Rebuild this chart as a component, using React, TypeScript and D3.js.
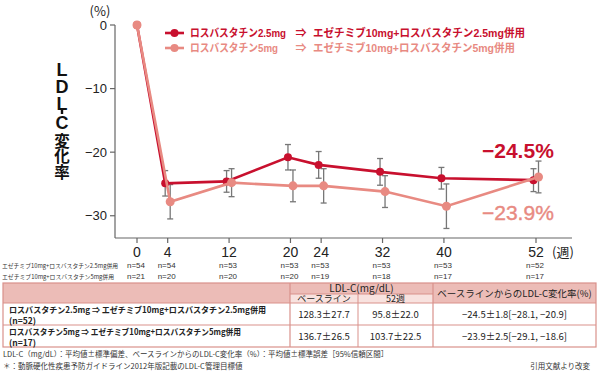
import React from 'react';
import * as d3 from 'd3';

// 週
const weeks = [0, 4, 12, 20, 24, 32, 40, 52];
// ロスバスタチン2.5mg ⇒ エゼチミブ10mg+ロスバスタチン2.5mg併用
const redMean = [0, -24.9, -24.6, -20.8, -22.0, -23.1, -24.1, -24.4];
const redErr = [0, 2.0, 1.7, 2.0, 2.1, 2.1, 1.7, 1.8];
// ロスバスタチン5mg ⇒ エゼチミブ10mg+ロスバスタチン5mg併用
const pinkMean = [0, -27.8, -24.8, -25.3, -25.3, -26.2, -28.5, -23.9];
const pinkErr = [0, 2.7, 2.2, 2.5, 2.7, 2.5, 3.5, 2.5];
const nRed = [54, 54, 53, 53, 53, 53, 53, 52];
const nPink = [21, 20, 20, 20, 19, 18, 17, 17];
const yTicks = [0, -10, -20, -30];

const legendLabels = [
  ['ロスバスタチン2.5mg', 'エゼチミブ10mg+ロスバスタチン2.5mg併用'],
  ['ロスバスタチン5mg', 'エゼチミブ10mg+ロスバスタチン5mg併用'],
];
const nRowLabels = ['エゼチミブ10mg+ロスバスタチン2.5mg併用', 'エゼチミブ10mg+ロスバスタチン5mg併用'];
const yTitleLatin = ['L', 'D', 'L', '-', 'C'];
const yTitleJa = '変化率';

const tableRows = [
  {
    name: 'ロスバスタチン2.5mg ⇒ エゼチミブ10mg+ロスバスタチン2.5mg併用',
    n: '(n=52)',
    base: '128.3±27.7',
    w52: '95.8±22.0',
    change: '−24.5±1.8[−28.1, −20.9]',
  },
  {
    name: 'ロスバスタチン5mg ⇒ エゼチミブ10mg+ロスバスタチン5mg併用',
    n: '(n=17)',
    base: '136.7±26.5',
    w52: '103.7±22.5',
    change: '−23.9±2.5[−29.1, −18.6]',
  },
];

const RED = '#c8102e';
const PINK = '#e88a82';
const GRAY = '#777';
const FONT = "'Liberation Sans', 'Noto Sans CJK JP', sans-serif";
const JFONT = "'Noto Sans CJK JP', sans-serif";

export default function App() {
  const x = d3.scaleLinear().domain([0, 52]).range([137, 536]);
  const y = d3.scaleLinear().domain([-33.5, 0]).range([238, 25]);

  const series = [
    { mean: redMean, err: redErr, color: RED, dx: -2.5, r: 4 },
    { mean: pinkMean, err: pinkErr, color: PINK, dx: 2.5, r: 4.5 },
  ];

  const line = (s) =>
    d3
      .line<number>()
      .x((d, i) => x(weeks[i]) + (i === 0 ? 0 : s.dx))
      .y((d) => y(d))(s.mean);

  const cols = [3, 290, 358, 433, 596];
  const rows = [283, 294, 303, 325, 347];
  const headFill = '#ecbcb7';
  const subFill = '#f8e2df';
  const border = '#d9918b';

  const legendW = [[96, 212], [88, 202]];
  const nameW = [257, 232];
  const titleY = [69, 86, 103, 112, 122];

  return (
    <svg
      width={600}
      height={373}
      style={{ position: 'absolute', left: 0, top: 0, background: '#fff' }}
      fontFamily={FONT}
    >
      {/* y axis */}
      <text x={100} y={16} fontSize={13} fill="#222" textAnchor="middle" fontFamily={JFONT}>
        (%)
      </text>
      <line x1={115} x2={115} y1={y(0)} y2={238} stroke="#666" strokeWidth={1.2} />
      {yTicks.map((t) => (
        <g key={t}>
          <line x1={110} x2={115} y1={y(t)} y2={y(t)} stroke="#666" strokeWidth={1.2} />
          <text x={107} y={y(t) + 4.5} fontSize={13} fill="#222" textAnchor="end">
            {t === 0 ? '0' : '−' + Math.abs(t)}
          </text>
        </g>
      ))}
      {yTitleLatin.map((c, i) => {
        const cy = titleY[i];
        if (c === '-') {
          return <line key={i} x1={62} x2={62} y1={cy - 2.5} y2={cy + 2} stroke="#111" strokeWidth={2.4} />;
        }
        return (
          <text key={i} x={62} y={cy + 6.5} fontSize={18} fontWeight="bold" fill="#111" textAnchor="middle">
            {c}
          </text>
        );
      })}
      <text
        x={62}
        y={133}
        fontSize={15.5}
        fontWeight="bold"
        fill="#111"
        fontFamily={JFONT}
        style={{ writingMode: 'vertical-rl' }}
      >
        {yTitleJa}
      </text>

      {/* x axis */}
      <line x1={115} x2={572} y1={238} y2={238} stroke="#666" strokeWidth={1.2} />
      {weeks.map((w, i) => (
        <g key={w}>
          <line x1={x(w)} x2={x(w)} y1={238} y2={243} stroke="#666" strokeWidth={1.2} />
          <text x={x(w)} y={257} fontSize={14} fill="#222" textAnchor="middle">
            {w}
          </text>
          <text x={x(w) - 1} y={268} fontSize={8} fill="#333" textAnchor="middle">
            n={nRed[i]}
          </text>
          <text x={x(w) - 1} y={279} fontSize={8} fill="#333" textAnchor="middle">
            n={nPink[i]}
          </text>
        </g>
      ))}
      <text x={563} y={257} fontSize={13} fill="#222" textAnchor="middle" fontFamily={JFONT}>
        (週)
      </text>
      {nRowLabels.map((l, i) => (
        <text
          key={l}
          x={2}
          y={268 + i * 11}
          fontSize={6}
          fill="#333"
          fontFamily={JFONT}
          textLength={i === 0 ? 116 : 112}
          lengthAdjust="spacingAndGlyphs"
        >
          {l}
        </text>
      ))}

      {/* error bars */}
      {series.map((s, si) =>
        s.mean.map((m, i) => {
          if (s.err[i] === 0) return null;
          const cx = x(weeks[i]) + s.dx;
          return (
            <g key={si + '-' + i} stroke={GRAY} strokeWidth={1.3}>
              <line x1={cx} x2={cx} y1={y(m + s.err[i])} y2={y(m - s.err[i])} />
              <line x1={cx - 3} x2={cx + 3} y1={y(m + s.err[i])} y2={y(m + s.err[i])} />
              <line x1={cx - 3} x2={cx + 3} y1={y(m - s.err[i])} y2={y(m - s.err[i])} />
            </g>
          );
        })
      )}

      {/* lines & markers (pink drawn last, on top at week 0) */}
      {series.map((s, si) => (
        <g key={si}>
          <path d={line(s) || ''} fill="none" stroke={s.color} strokeWidth={2.6} />
          {s.mean.map((m, i) => (
            <circle
              key={i}
              cx={x(weeks[i]) + (i === 0 ? 0 : s.dx)}
              cy={y(m)}
              r={s.r}
              fill={s.color}
            />
          ))}
        </g>
      ))}

      {/* end labels */}
      <text x={482} y={158} fontSize={21} fontWeight="bold" fill={RED}>
        −24.5%
      </text>
      <text x={482} y={220} fontSize={21} fill={PINK} stroke={PINK} strokeWidth={0.4}>
        −23.9%
      </text>

      {/* legend */}
      {legendLabels.map((l, i) => {
        const c = i === 0 ? RED : PINK;
        const ly = 33 + i * 15;
        return (
          <g key={i} fontSize={11} fontWeight="bold" fill={c}>
            <line x1={165} x2={184} y1={ly} y2={ly} stroke={c} strokeWidth={2.6} />
            <circle cx={174.5} cy={ly} r={4} fill={c} />
            <text x={190} y={ly + 4} textLength={legendW[i][0]} lengthAdjust="spacingAndGlyphs">
              {l[0]}
            </text>
            <text x={301} y={ly + 4} textAnchor="middle" fontFamily={JFONT}>
              ⇒
            </text>
            <text x={313} y={ly + 4} textLength={legendW[i][1]} lengthAdjust="spacingAndGlyphs">
              {l[1]}
            </text>
          </g>
        );
      })}

      {/* table */}
      <g fontFamily={JFONT}>
        <rect x={cols[0]} y={rows[0]} width={cols[4] - cols[0]} height={rows[2] - rows[0]} fill={headFill} />
        <rect x={cols[1]} y={rows[1]} width={cols[3] - cols[1]} height={rows[2] - rows[1]} fill={subFill} />
        <rect
          x={cols[0]}
          y={rows[0]}
          width={cols[4] - cols[0]}
          height={rows[4] - rows[0]}
          fill="none"
          stroke={border}
          strokeWidth={1.2}
        />
        {[rows[2], rows[3]].map((ry) => (
          <line key={ry} x1={cols[0]} x2={cols[4]} y1={ry} y2={ry} stroke={border} strokeWidth={1.2} />
        ))}
        <line x1={cols[1]} x2={cols[3]} y1={rows[1]} y2={rows[1]} stroke={border} />
        {[cols[1], cols[3]].map((cx) => (
          <line key={cx} x1={cx} x2={cx} y1={rows[0]} y2={rows[4]} stroke={border} strokeWidth={1.2} />
        ))}
        <line x1={cols[2]} x2={cols[2]} y1={rows[1]} y2={rows[4]} stroke={border} />
        <text x={(cols[1] + cols[3]) / 2} y={292} fontSize={10} textAnchor="middle" fill="#222">
          LDL-C(mg/dL)
        </text>
        <text x={(cols[1] + cols[2]) / 2} y={302} fontSize={9} textAnchor="middle" fill="#222">
          ベースライン
        </text>
        <text x={(cols[2] + cols[3]) / 2} y={302} fontSize={9} textAnchor="middle" fill="#222">
          52週
        </text>
        <text x={(cols[3] + cols[4]) / 2} y={297} fontSize={9.5} textAnchor="middle" fill="#222">
          ベースラインからのLDL-C変化率(%)
        </text>
        {tableRows.map((r, i) => {
          const top = rows[2 + i];
          return (
            <g key={i} fill="#222">
              <text
                x={9}
                y={top + 9.5}
                fontSize={8.5}
                fontWeight={600}
                textLength={nameW[i]}
                lengthAdjust="spacingAndGlyphs"
              >
                {r.name}
              </text>
              <text x={9} y={top + 20.5} fontSize={8.5} fontWeight={600}>
                {r.n}
              </text>
              <text x={(cols[1] + cols[2]) / 2} y={top + 15} fontSize={9.5} textAnchor="middle">
                {r.base}
              </text>
              <text x={(cols[2] + cols[3]) / 2} y={top + 15} fontSize={9.5} textAnchor="middle">
                {r.w52}
              </text>
              <text x={(cols[3] + cols[4]) / 2} y={top + 15} fontSize={9.5} textAnchor="middle">
                {r.change}
              </text>
            </g>
          );
        })}
        <text x={3} y={357} fontSize={7.5} fill="#333">
          LDL-C（mg/dL）：平均値±標準偏差、ベースラインからのLDL-C変化率（%）：平均値±標準誤差［95%信頼区間］
        </text>
        <text x={3} y={369} fontSize={7.5} fill="#333">
          ＊：動脈硬化性疾患予防ガイドライン2012年版記載のLDL-C管理目標値
        </text>
        <text x={590} y={369} fontSize={7.5} fill="#333" textAnchor="end">
          引用文献より改変
        </text>
      </g>
    </svg>
  );
}
